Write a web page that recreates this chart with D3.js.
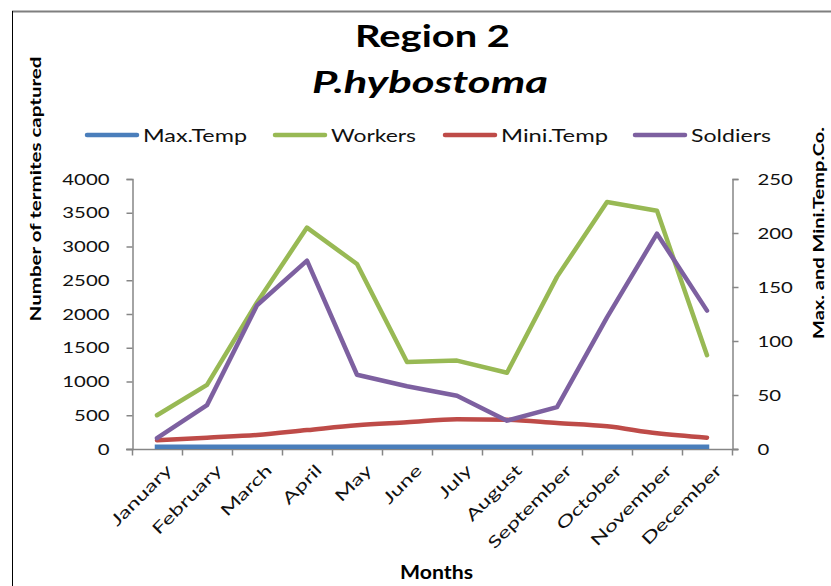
<!DOCTYPE html>
<html>
<head>
<meta charset="utf-8">
<script src="https://cdn.jsdelivr.net/npm/d3@7"></script>
<style>
  html, body { margin: 0; padding: 0; background: #fff; }
  svg { display: block; }
  text { font-family: Lato, "Open Sans", "Liberation Sans", sans-serif; }
</style>
</head>
<body>
<svg id="chart" width="831" height="586"></svg>
<script>
// Monthly termite captures (left axis) and temperatures
const months = ["January", "February", "March", "April", "May", "June",
                "July", "August", "September", "October", "November", "December"];
const workers  = [500, 950, 2170, 3280, 2740, 1290, 1310, 1130, 2550, 3660, 3530, 1390];
const soldiers = [160, 650, 2130, 2790, 1100, 930, 790, 420, 620, 1950, 3190, 2050];
const maxTemp  = [32, 32, 32, 32, 32, 32, 32, 32, 32, 32, 32, 32];   // plotted on left axis
const miniTemp = [8, 10.5, 13, 17.5, 22, 24.7, 27.5, 27, 24, 21, 14.5, 10.5]; // right axis
const leftTicks  = [0, 500, 1000, 1500, 2000, 2500, 3000, 3500, 4000];
const rightTicks = [0, 50, 100, 150, 200, 250];

const svg = d3.select("#chart");

// stretch a text element horizontally (along its baseline) to a given length
function fit(sel, len) {
  sel.attr("textLength", len).attr("lengthAdjust", "spacingAndGlyphs");
  return sel;
}
function widen(sel, factor) {
  sel.each(function () {
    const w = this.getComputedTextLength();
    d3.select(this).attr("textLength", w * factor).attr("lengthAdjust", "spacingAndGlyphs");
  });
}

// frame
svg.append("line").attr("x1", 12).attr("x2", 831).attr("y1", 11.5).attr("y2", 11.5)
  .attr("stroke", "#7f7f7f").attr("stroke-width", 2);
svg.append("line").attr("x1", 12.5).attr("x2", 12.5).attr("y1", 11).attr("y2", 586)
  .attr("stroke", "#000").attr("stroke-width", 1);

const x = d3.scaleBand().domain(months).range([132, 732]);
const yL = d3.scaleLinear().domain([0, 4000]).range([449, 179]);
const yR = d3.scaleLinear().domain([0, 250]).range([449, 179]);

const axisColor = "#868686";

// left axis
const gL = svg.append("g").attr("transform", "translate(132.5,0)")
  .call(d3.axisLeft(yL).tickValues(leftTicks).tickSize(6).tickPadding(17).tickFormat(d3.format("d")));
// right axis
const gR = svg.append("g").attr("transform", "translate(732.5,0)")
  .call(d3.axisRight(yR).tickValues(rightTicks).tickSize(6).tickPadding(19).tickFormat(d3.format("d")));

[gL, gR].forEach(g => {
  g.select(".domain").attr("stroke", axisColor).attr("stroke-width", 1.5);
  g.selectAll(".tick line").attr("stroke", axisColor).attr("stroke-width", 1.5);
  g.selectAll(".tick text").attr("font-size", 16).attr("fill", "#111")
    .attr("font-family", "Lato, sans-serif")
    .each(function (d) { fit(d3.select(this), String(d).length * 11.8); });
});
gL.select(".domain").attr("d", "M-6,179.5H0.5V449.5H-6");
gR.select(".domain").attr("d", "M6,179.5H0.5V449.5H6");

// bottom axis with ticks at category edges
const edges = months.map(m => x(m)).concat([x.range()[1]]);
const gB = svg.append("g").attr("transform", "translate(0,449.5)");
gB.append("line").attr("x1", 126).attr("x2", 738).attr("y1", 0).attr("y2", 0)
  .attr("stroke", axisColor).attr("stroke-width", 1.5);
gB.selectAll("line.tk").data(edges).join("line").attr("class", "tk")
  .attr("x1", d => Math.round(d) + 0.5).attr("x2", d => Math.round(d) + 0.5)
  .attr("y1", 0).attr("y2", 6).attr("stroke", axisColor).attr("stroke-width", 1.5);
const monthText = gB.selectAll("text").data(months).join("text")
  .attr("transform", d => `translate(${x(d) + x.bandwidth() / 2 + 8},14) rotate(-45)`)
  .attr("text-anchor", "end")
  .attr("dy", "0.7em")
  .attr("font-size", 16)
  .attr("fill", "#111")
  .text(d => d);
widen(monthText, 1.45);

// series
const cx = (d, i) => x(months[i]) + x.bandwidth() / 2;
const series = [
  { name: "Max.Temp",  values: maxTemp,  scale: yL, color: "#4a7ebb", curve: d3.curveLinear },
  { name: "Workers",   values: workers,  scale: yL, color: "#98b954", curve: d3.curveLinear },
  { name: "Mini.Temp", values: miniTemp, scale: yR, color: "#be4b48", curve: d3.curveMonotoneX },
  { name: "Soldiers",  values: soldiers, scale: yL, color: "#7d60a0", curve: d3.curveLinear }
];
const drawOrder = [series[0], series[2], series[1], series[3]];
drawOrder.forEach(s => {
  const line = d3.line().x(cx).y(d => s.scale(d)).curve(s.curve);
  svg.append("path").attr("d", line(s.values))
    .attr("fill", "none").attr("stroke", s.color).attr("stroke-width", 4.5)
    .attr("stroke-linejoin", "round")
    .attr("stroke-linecap", s.name === "Max.Temp" ? "square" : "round");
});

// legend
const legendX = [87, 275, 445, 635];
const legendLen = [104, 85, 107, 80];
series.forEach((s, i) => {
  const g = svg.append("g").attr("transform", `translate(${legendX[i]},135)`);
  g.append("line").attr("x1", 0).attr("x2", 50).attr("y1", 0).attr("y2", 0)
    .attr("stroke", s.color).attr("stroke-width", 4.5).attr("stroke-linecap", "round");
  fit(g.append("text").attr("x", 56).attr("y", 7)
    .attr("font-size", 18).attr("fill", "#111").text(s.name), legendLen[i]);
});

// titles
fit(svg.append("text").attr("x", 355).attr("y", 47)
  .attr("font-size", 30).attr("font-weight", "bold").attr("fill", "#000").text("Region 2"), 155);
fit(svg.append("text").attr("x", 312).attr("y", 93)
  .attr("font-size", 30).attr("font-weight", "bold").attr("font-style", "italic")
  .attr("fill", "#000").text("P.hybostoma"), 236);

// axis titles
fit(svg.append("text").attr("transform", "translate(41,189) rotate(-90)")
  .attr("text-anchor", "middle").attr("font-size", 16).attr("font-weight", "bold")
  .attr("fill", "#000").text("Number of termites captured"), 265);
fit(svg.append("text").attr("transform", "translate(824,233) rotate(-90)")
  .attr("text-anchor", "middle").attr("font-size", 16).attr("font-weight", "bold")
  .attr("fill", "#000").text("Max. and Mini.Temp.Co."), 212);
fit(svg.append("text").attr("x", 400).attr("y", 579)
  .attr("font-size", 18).attr("font-weight", "bold").attr("fill", "#000").text("Months"), 73);
</script>
</body>
</html>
